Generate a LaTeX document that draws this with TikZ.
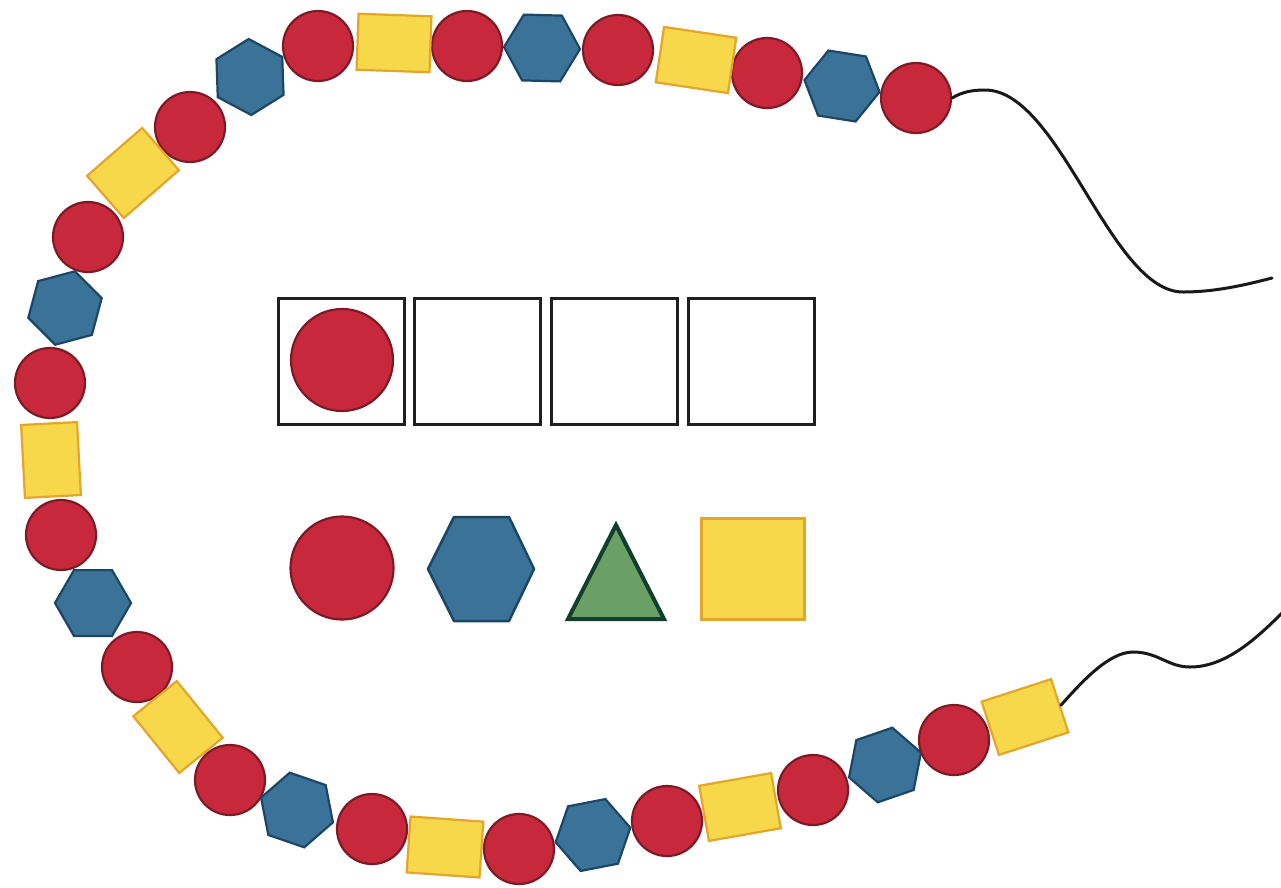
\documentclass[tikz,border=0pt]{standalone}
\usetikzlibrary{shapes.geometric}
\definecolor{beadred}{HTML}{C8283C}
\definecolor{beadredline}{HTML}{7E1A26}
\definecolor{beadblue}{HTML}{3B7398}
\definecolor{beadblueline}{HTML}{1C4666}
\definecolor{beadyellow}{HTML}{F6D84A}
\definecolor{beadyellowline}{HTML}{E3A62A}
\definecolor{trigreen}{HTML}{6A9F66}
\definecolor{trigreenline}{HTML}{123E2C}
\tikzset{
 redbead/.style={circle, fill=beadred, draw=beadredline, line width=2.2pt, minimum size=70pt, inner sep=0pt},
 bluebead/.style={regular polygon, regular polygon sides=6, fill=beadblue, draw=beadblueline, line width=2.2pt, minimum size=76pt, inner sep=0pt},
 yellowbead/.style={rectangle, fill=beadyellow, draw=beadyellowline, line width=2.2pt, minimum width=73pt, minimum height=56pt, inner sep=0pt},
 cell/.style={rectangle, draw=black!88, line width=3pt, minimum size=126pt, inner sep=0pt},
 thread/.style={line width=3pt, draw=black!90, line cap=round},
}
\begin{document}
\begin{tikzpicture}[x=1pt,y=-1pt]
\useasboundingbox (0,0) rectangle (1281,887);
\fill[white] (0,0) rectangle (1281,887);
% necklace beads
\node[redbead] (b1) at (916,98) {};
\node[bluebead, rotate=-9] (b2) at (842,86) {};
\node[redbead] (b3) at (767,73) {};
\node[yellowbead, rotate=-8.5] (b4) at (696,60) {};
\node[redbead] (b5) at (618,50) {};
\node[bluebead, rotate=-1.5] (b6) at (542,48) {};
\node[redbead] (b7) at (467,46) {};
\node[yellowbead, rotate=-2] (b8) at (394,43) {};
\node[redbead] (b9) at (318,46) {};
\node[bluebead, rotate=32] (b10) at (250,77) {};
\node[redbead] (b11) at (190,127) {};
\node[yellowbead, rotate=41] (b12) at (133,173) {};
\node[redbead] (b13) at (88,237) {};
\node[bluebead, rotate=15] (b14) at (65,308) {};
\node[redbead] (b15) at (50,383) {};
\node[yellowbead, rotate=-87] (b16) at (51,460) {};
\node[redbead] (b17) at (61,535) {};
\node[bluebead, rotate=0] (b18) at (93,603) {};
\node[redbead] (b19) at (137,667) {};
\node[yellowbead, rotate=-51] (b20) at (178,727) {};
\node[redbead] (b21) at (230,780) {};
\node[bluebead, rotate=-19] (b22) at (297,810) {};
\node[redbead] (b23) at (372,829) {};
\node[yellowbead, rotate=-4] (b24) at (445,847) {};
\node[redbead] (b25) at (519,849) {};
\node[bluebead, rotate=11] (b26) at (593,835) {};
\node[redbead] (b27) at (667,821) {};
\node[yellowbead, rotate=10] (b28) at (740,807) {};
\node[redbead] (b29) at (813,790) {};
\node[bluebead, rotate=19] (b30) at (885,765) {};
\node[redbead] (b31) at (954,740) {};
\node[yellowbead, rotate=18] (b32) at (1025,717) {};
% thread ends
\coordinate (endtop) at (1272,278);
\coordinate (endbot) at (1283,612);
\draw[thread] (b1.east) .. controls (962,92) and (972,90) .. (985,90)
  .. controls (1060,90) and (1110,292) .. (1183,292)
  .. controls (1215,292) and (1245,285) .. (endtop);
\draw[thread] (b32.east) .. controls (1080,684) and (1108,652) .. (1133,652)
  .. controls (1158,652) and (1168,667) .. (1190,667)
  .. controls (1225,667) and (1255,640) .. (endbot);
% pattern boxes
\node[cell] (c1) at (341,361) {};
\node[cell] (c2) at (477.5,361) {};
\node[cell] (c3) at (614,361) {};
\node[cell] (c4) at (751,361) {};
\node[redbead, minimum size=102pt] (c1bead) at (342,360) {};
% choices
\node[redbead, minimum size=103pt] (optcircle) at (342,568) {};
\draw[fill=beadblue, draw=beadblueline, line width=2.5pt, line join=round]
  (428,569) -- (454,517) -- (509,517) -- (534,569) -- (509,621) -- (454,621) -- cycle;
\draw[fill=trigreen, draw=trigreenline, line width=4pt, line join=miter]
  (616,525) -- (664,619) -- (568,619) -- cycle;
\node[rectangle, fill=beadyellow, draw=beadyellowline, line width=3pt, minimum width=103pt, minimum height=101pt, inner sep=0pt] (optsquare) at (753,569) {};
\end{tikzpicture}
\end{document}
